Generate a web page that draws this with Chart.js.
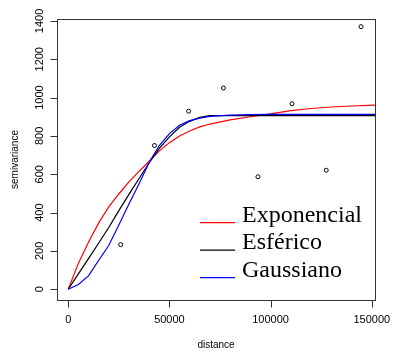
<!DOCTYPE html>
<html>
<head>
<meta charset="utf-8">
<script src="https://cdn.jsdelivr.net/npm/chart.js"></script>
<style>
  html, body { margin: 0; padding: 0; background: #fff; }
  #wrap { width: 394px; height: 352px; }
</style>
</head>
<body>
<div id="wrap"><canvas id="vario" width="394" height="352"></canvas></div>
<script>
// empirical semivariogram points
const pointDist = [25900, 42600, 59500, 76700, 93750, 110600, 127500, 144700];
const pointGamma = [233, 750, 929, 1050, 587, 968, 621, 1370];

// fitted models
const modelDist = [0, 5000, 10000, 15000, 20000, 25000, 30000, 35000, 40000, 45000, 50000,
  55000, 60000, 65000, 70000, 80000, 90000, 100000, 110000, 120000, 130000, 140000, 151600];
const expGamma = [0, 135, 245, 345, 430, 497, 560, 615, 668, 722, 765,
  800, 826, 847, 862, 884, 900, 915, 932, 943, 951, 956, 961];
const sphGamma = [0, 80, 160, 240, 322, 410, 495, 578, 660, 735, 795,
  845, 876, 897, 906, 906, 906, 906, 906, 906, 906, 906, 906];
const gauGamma = [0, 25, 70, 150, 228, 335, 445, 550, 662, 750, 812,
  856, 880, 893, 902, 908, 911, 912, 912, 912, 912, 912, 912];

const xTicks = [0, 50000, 100000, 150000];
const yTicks = [0, 200, 400, 600, 800, 1000, 1200, 1400];
const legendLabels = ['Exponencial', 'Esférico', 'Gaussiano'];
const legendColors = ['#ff0000', '#000000', '#0000ff'];

function toXY(xs, ys) {
  return xs.map((x, i) => ({ x: x, y: ys[i] }));
}

// R-style box, axes, titles and legend
const rStyle = {
  id: 'rStyle',
  afterDraw(chart) {
    const ctx = chart.ctx;
    const xs = chart.scales.x, ys = chart.scales.y;
    const a = chart.chartArea;
    ctx.save();
    ctx.strokeStyle = '#333';
    ctx.lineWidth = 1;
    ctx.strokeRect(a.left + 0.5, a.top + 0.5, a.right - a.left, a.bottom - a.top);

    ctx.fillStyle = '#000';
    ctx.font = '11px "Liberation Sans", Arial, sans-serif';

    // x axis
    const xa = a.bottom + 0.5;
    ctx.beginPath();
    ctx.moveTo(xs.getPixelForValue(xTicks[0]), xa);
    ctx.lineTo(xs.getPixelForValue(xTicks[xTicks.length - 1]), xa);
    xTicks.forEach(t => {
      const px = Math.round(xs.getPixelForValue(t)) + 0.5;
      ctx.moveTo(px, xa);
      ctx.lineTo(px, xa + 7);
    });
    ctx.stroke();
    ctx.textAlign = 'center';
    ctx.textBaseline = 'middle';
    xTicks.forEach(t => ctx.fillText(String(t), xs.getPixelForValue(t), a.bottom + 20));

    // y axis
    const ya = a.left + 0.5;
    ctx.beginPath();
    ctx.moveTo(ya, ys.getPixelForValue(yTicks[0]));
    ctx.lineTo(ya, ys.getPixelForValue(yTicks[yTicks.length - 1]));
    yTicks.forEach(t => {
      const py = Math.round(ys.getPixelForValue(t)) + 0.5;
      ctx.moveTo(ya, py);
      ctx.lineTo(ya - 7, py);
    });
    ctx.stroke();
    yTicks.forEach(t => {
      ctx.save();
      ctx.translate(a.left - 17, ys.getPixelForValue(t));
      ctx.rotate(-Math.PI / 2);
      ctx.fillText(String(t), 0, 0);
      ctx.restore();
    });

    // axis titles
    ctx.font = '10px "Liberation Sans", Arial, sans-serif';
    ctx.fillText('distance', (a.left + a.right) / 2, a.bottom + 45);
    ctx.save();
    ctx.translate(15, (a.top + a.bottom) / 2);
    ctx.rotate(-Math.PI / 2);
    ctx.fillText('semivariance', 0, 0);
    ctx.restore();

    // legend
    ctx.font = '24px "Liberation Serif", "Times New Roman", serif';
    ctx.textAlign = 'left';
    ctx.textBaseline = 'alphabetic';
    legendLabels.forEach((lab, i) => {
      const base = 221.7 + i * 27.5;
      ctx.strokeStyle = legendColors[i];
      ctx.lineWidth = 1.2;
      ctx.beginPath();
      ctx.moveTo(200, base + 1);
      ctx.lineTo(235, base + 1);
      ctx.stroke();
      ctx.fillText(lab, 242, base);
    });
    ctx.restore();
  }
};

const lineStyle = { showLine: true, pointRadius: 0, borderWidth: 1.2, fill: false, tension: 0 };

new Chart(document.getElementById('vario'), {
  type: 'scatter',
  data: {
    datasets: [
      Object.assign({ label: 'Exponencial', data: toXY(modelDist, expGamma), borderColor: '#ff0000', order: 3 }, lineStyle),
      Object.assign({ label: 'Esférico', data: toXY(modelDist, sphGamma), borderColor: '#000000', order: 2 }, lineStyle),
      Object.assign({ label: 'Gaussiano', data: toXY(modelDist, gauGamma), borderColor: '#0000ff', order: 1 }, lineStyle),
      {
        label: 'semivariance',
        data: toXY(pointDist, pointGamma),
        showLine: false,
        pointRadius: 2,
        pointBorderWidth: 1,
        pointBorderColor: '#000',
        pointBackgroundColor: 'rgba(0,0,0,0)',
        order: 0
      }
    ]
  },
  options: {
    responsive: false,
    animation: false,
    layout: { padding: { left: 57, right: 19, top: 19, bottom: 52 } },
    plugins: { legend: { display: false }, tooltip: { enabled: false } },
    scales: {
      x: { type: 'linear', display: false, min: -5560, max: 151600 },
      y: { type: 'linear', display: false, min: -56, max: 1410 }
    }
  },
  plugins: [rStyle]
});
</script>
</body>
</html>
